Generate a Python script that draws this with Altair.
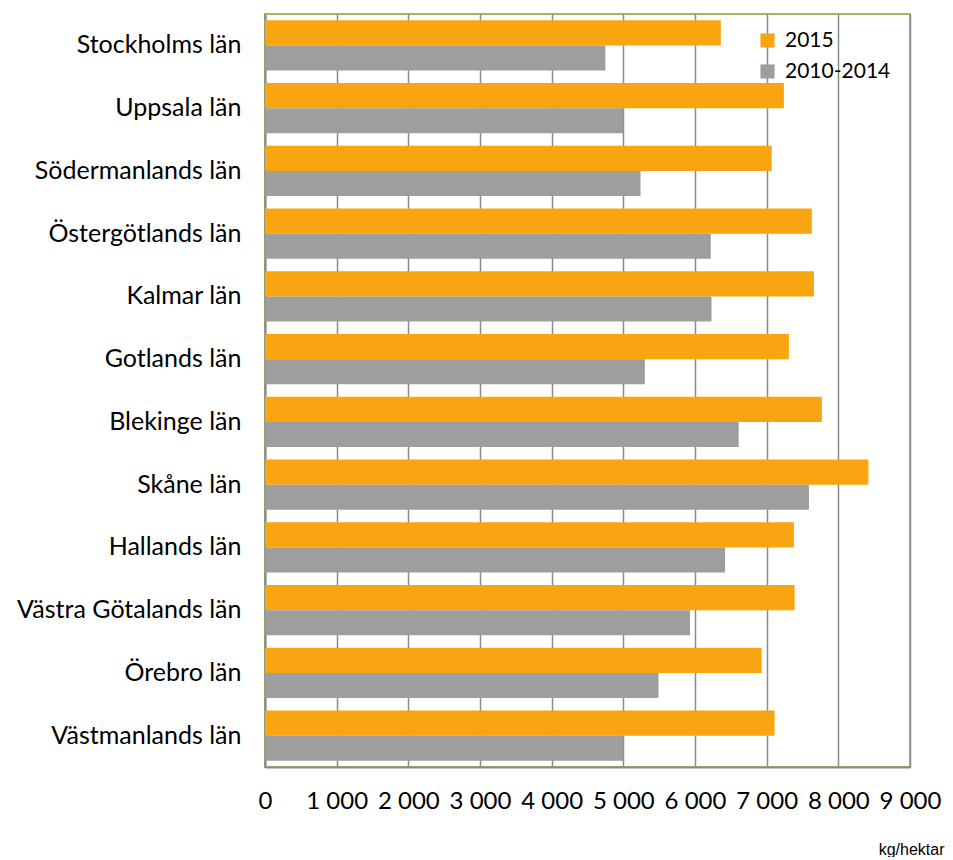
import altair as alt
import pandas as pd

regions = ["Stockholms län", "Uppsala län", "Södermanlands län", "Östergötlands län",
           "Kalmar län", "Gotlands län", "Blekinge län", "Skåne län", "Hallands län",
           "Västra Götalands län", "Örebro län", "Västmanlands län"]
y2015 = [6360, 7240, 7070, 7630, 7660, 7310, 7770, 8420, 7380, 7390, 6930, 7110]
y2010_2014 = [4750, 5000, 5240, 6220, 6230, 5300, 6610, 7590, 6420, 5930, 5490, 5000]
series = ["2015", "2010-2014"]
colors = ["#F9A512", "#9E9E9E"]

rows = []
for r, a, b in zip(regions, y2015, y2010_2014):
    rows.append({"region": r, "serie": series[0], "value": a})
    rows.append({"region": r, "serie": series[1], "value": b})
df = pd.DataFrame(rows)

font = "Lato"

chart = alt.Chart(df).mark_bar().encode(
    y=alt.Y("region:N", sort=regions, title=None,
            scale=alt.Scale(paddingInner=0.2, paddingOuter=0.1),
            axis=alt.Axis(labelFont=font, labelFontSize=25, labelColor="#000",
                          labelPadding=24, ticks=False, domainColor="#8a8a8a",
                          domainWidth=2, labelLimit=300)),
    yOffset=alt.YOffset("serie:N", sort=series),
    x=alt.X("value:Q", title="kg/hektar",
            scale=alt.Scale(domain=[0, 9000], nice=False),
            axis=alt.Axis(values=list(range(0, 9001, 1000)),
                          labelExpr="replace(format(datum.value, ','), ',', ' ')",
                          labelFont=font, labelFontSize=24, labelColor="#000",
                          labelPadding=22, labelOverlap=False, labelFlush=False,
                          ticks=False, grid=True,
                          gridColor="#8a8a8a", gridWidth=1.5,
                          domainColor="#8a8a8a", domainWidth=2,
                          titleFont="Liberation Sans", titleFontSize=16,
                          titleFontWeight="normal", titleColor="#000",
                          titleAnchor="end", titleAlign="right", titleX=679,
                          titleY=87, titleBaseline="alphabetic")),
    color=alt.Color("serie:N", sort=series,
                    scale=alt.Scale(domain=series, range=colors),
                    legend=alt.Legend(title=None, orient="none", legendX=492,
                                      legendY=16, symbolType="square",
                                      symbolSize=200, symbolStrokeWidth=0,
                                      labelFont=font, labelFontSize=21,
                                      labelColor="#000", rowPadding=9,
                                      labelOffset=7)),
).properties(
    width=645, height=753,
    autosize=alt.AutoSizeParams(type="none"),
    padding={"left": 257, "top": 6, "right": 35, "bottom": 90},
).configure_view(stroke="#9BBB59", strokeWidth=2)

chart.save("out.html", embed_options={"renderer": "svg", "actions": False})
